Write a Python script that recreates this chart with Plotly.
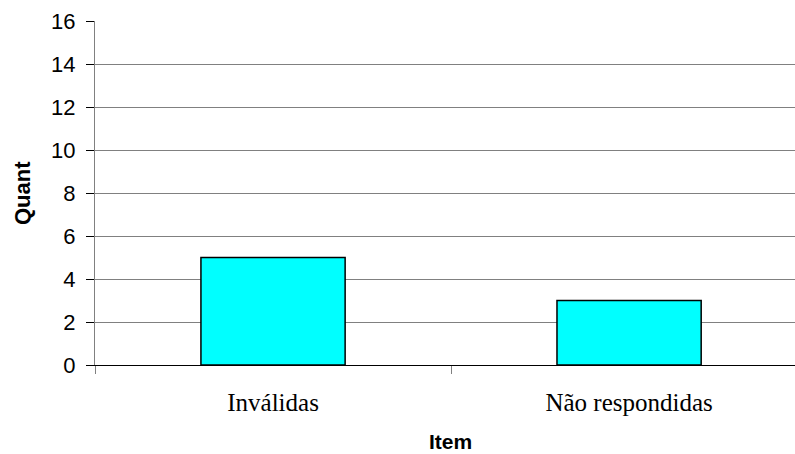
import plotly.graph_objects as go

categories = ["Inválidas", "Não respondidas"]
values = [5, 3]
y_ticks = [0, 2, 4, 6, 8, 10, 12, 14, 16]
x_title = "Item"
y_title = "Quant"

W, H = 795, 454
L, R, T, B = 95, 0, 21, 89
pw, ph = W - L - R, H - T - B

fig = go.Figure()
fig.add_trace(go.Bar(
    x=categories, y=values, width=0.405,
    marker=dict(color="#00FFFF", line=dict(color="#000000", width=1.5)),
))

fig.update_layout(
    width=W, height=H,
    margin=dict(l=L, r=R, t=T, b=B, pad=0),
    paper_bgcolor="white", plot_bgcolor="white",
    showlegend=False,
    xaxis=dict(
        type="category", range=[-0.5, 1.466],
        tickson="boundaries", ticks="outside", ticklen=8, tickcolor="#808080", tickwidth=1,
        showline=True, linecolor="#000000", linewidth=1,
        showgrid=False, zeroline=False,
        tickfont=dict(family="Liberation Serif", size=25, color="#000000"),
        ticklabelstandoff=15,
    ),
    yaxis=dict(
        range=[0, 16], tickvals=y_ticks, ticktext=[str(v) for v in y_ticks],
        ticks="outside", ticklen=8, tickcolor="#000000", tickwidth=1,
        showline=True, linecolor="#808080", linewidth=1,
        showgrid=True, gridcolor="#808080", gridwidth=1,
        zeroline=False,
        tickfont=dict(family="Liberation Sans", size=22, color="#000000"),
        ticklabelstandoff=6,
    ),
    annotations=[
        dict(text="<b>" + y_title + "</b>", textangle=-90, xref="paper", yref="paper",
             x=(22 - L) / pw, y=0.5, xanchor="center", yanchor="middle", showarrow=False,
             font=dict(family="Liberation Sans", size=22, color="#000000")),
        dict(text="<b>" + x_title + "</b>", xref="paper", yref="paper",
             x=(450 - L) / pw, y=(T + ph - 441) / ph, xanchor="center", yanchor="middle", showarrow=False,
             font=dict(family="Liberation Sans", size=21, color="#000000")),
    ],
)

fig.write_html("out.html", config={"displayModeBar": False})

with open("out.html", "r", encoding="utf-8") as f:
    html = f.read()
html = html.replace("<head>", "<head><style>html,body{margin:0;padding:0;overflow:hidden;}</style>", 1)
with open("out.html", "w", encoding="utf-8") as f:
    f.write(html)
